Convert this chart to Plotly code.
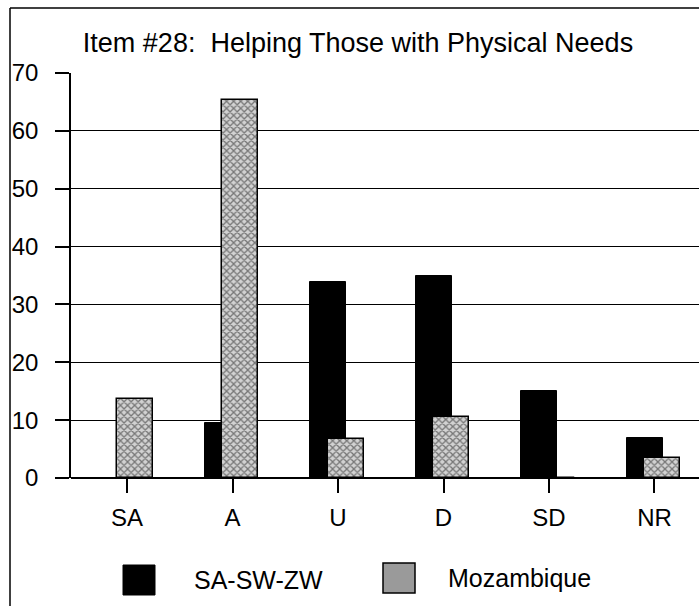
import plotly.graph_objects as go

categories = ["SA", "A", "U", "D", "SD", "NR"]
sa_sw_zw = [0, 9.5, 33.8, 35, 15, 7]
mozambique = [13.7, 65.3, 6.7, 10.5, 0, 3.5]
y_ticks = [0, 10, 20, 30, 40, 50, 60, 70]
title_text = "Item #28:  Helping Those with Physical Needs"

W, H = 699, 610
L, R, T, B = 71, 0, 73, 132
PW, PH = W - L - R, H - T - B

def px(x):
    return (x - L) / PW

def py(y):
    return (H - B - y) / PH

FONT = "Liberation Sans, Arial, sans-serif"

fig = go.Figure()
fig.add_trace(go.Bar(
    x=list(range(len(categories))), y=sa_sw_zw, name="SA-SW-ZW",
    width=0.34, offset=-0.262,
    marker=dict(color="black", line=dict(color="black", width=1)),
))
fig.add_trace(go.Bar(
    x=list(range(len(categories))), y=mozambique, name="Mozambique",
    width=0.34, offset=-0.095,
    marker=dict(color="white", line=dict(color="black", width=1.5),
                pattern=dict(shape="x", fgcolor="#1a1a1a", bgcolor="#d2d2d2",
                             size=5, solidity=0.45)),
))

shapes = [
    dict(type="line", xref="paper", yref="paper",
         x0=px(10), x1=px(10), y0=py(606), y1=py(8),
         line=dict(color="black", width=1.5)),
    dict(type="line", xref="paper", yref="paper",
         x0=px(10), x1=1, y0=py(8), y1=py(8),
         line=dict(color="black", width=1.5)),
    dict(type="rect", xref="paper", yref="paper",
         x0=px(123), x1=px(155), y0=py(595), y1=py(565),
         line=dict(color="black", width=1), fillcolor="black"),
    dict(type="rect", xref="paper", yref="paper",
         x0=px(383), x1=px(415), y0=py(593), y1=py(563),
         line=dict(color="black", width=1.5), fillcolor="#9a9a9a"),
]
annotations = [
    dict(text="SA-SW-ZW", xref="paper", yref="paper", x=px(192), y=py(580),
         xanchor="left", yanchor="middle", showarrow=False,
         font=dict(family=FONT, size=25, color="black")),
    dict(text="Mozambique", xref="paper", yref="paper", x=px(446), y=py(578),
         xanchor="left", yanchor="middle", showarrow=False,
         font=dict(family=FONT, size=25, color="black")),
]

fig.update_layout(
    width=W, height=H,
    margin=dict(l=L, r=R, t=T, b=B, pad=0),
    paper_bgcolor="white", plot_bgcolor="white",
    barmode="overlay", showlegend=False,
    bargap=0,
    title=dict(text=title_text, x=358 / W, xanchor="center", y=1 - 43 / H,
               yanchor="middle", yref="container",
               font=dict(family=FONT, size=27, color="black")),
    font=dict(family=FONT, color="black"),
    shapes=shapes, annotations=annotations,
)
fig.update_xaxes(
    range=[-0.531, 5.422], tickmode="array",
    tickvals=list(range(len(categories))), ticktext=categories,
    ticks="outside", ticklen=14, tickcolor="black", tickwidth=1.5,
    showgrid=False, showline=False, zeroline=False,
    ticklabelstandoff=4,
    tickfont=dict(family=FONT, size=24, color="black"),
)
fig.update_yaxes(
    range=[0, 70], tickvals=y_ticks,
    ticks="outside", ticklen=14, tickcolor="black", tickwidth=1.5,
    showgrid=True, gridcolor="black", gridwidth=1.2,
    showline=True, linecolor="black", linewidth=1.5,
    zeroline=True, zerolinecolor="black", zerolinewidth=1.5,
    ticklabelstandoff=12,
    tickfont=dict(family=FONT, size=24, color="black"),
)

fig.write_html("out.html", config={"displayModeBar": False},
               post_script="document.body.style.margin='0';document.body.style.overflow='hidden';")
